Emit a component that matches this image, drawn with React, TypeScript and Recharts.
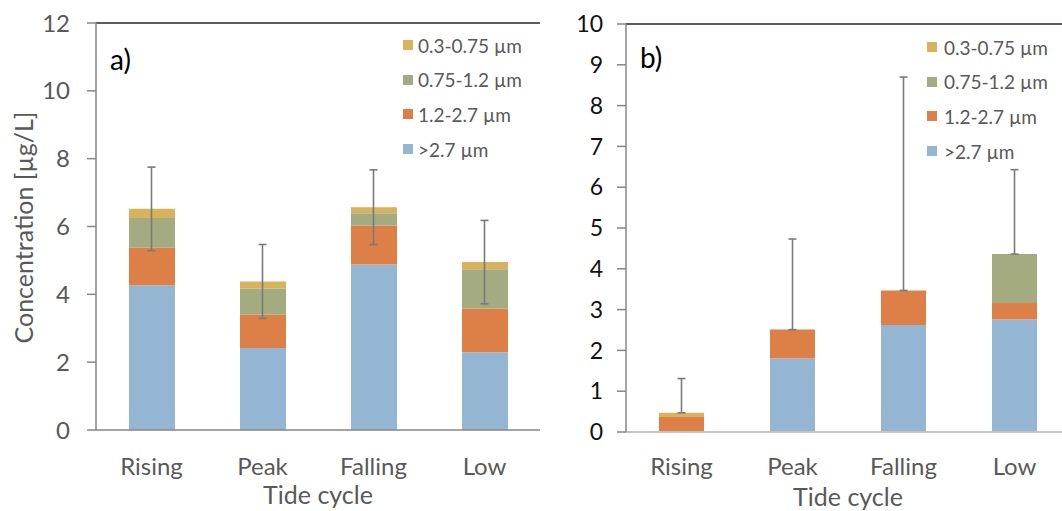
import { ComposedChart, Bar, Scatter, XAxis, YAxis, ErrorBar, ReferenceLine, Legend } from "recharts";

const categories = ["Rising", "Peak", "Falling", "Low"];

// a) size fractions, µg/L
const aGt27    = [4.27, 2.42, 4.88, 2.29];
const a12to27  = [1.1, 0.98, 1.15, 1.29];
const a075to12 = [0.88, 0.77, 0.36, 1.16];
const a03to075 = [0.27, 0.21, 0.18, 0.21];
const aErr     = [1.23, 1.09, 1.1, 1.23];

// b) size fractions, µg/L (upper error only)
const bGt27    = [0, 1.8, 2.62, 2.76];
const b12to27  = [0.37, 0.71, 0.85, 0.4];
const b075to12 = [0, 0, 0, 1.2];
const b03to075 = [0.1, 0, 0, 0];
const bErr     = [0.84, 2.22, 5.23, 2.07];

const aTicks = [0, 2, 4, 6, 8, 10, 12];
const bTicks = [0, 1, 2, 3, 4, 5, 6, 7, 8, 9, 10];

const SERIES = [
  { key: "gt27", label: ">2.7 µm",     color: "#94B6D2" },
  { key: "s12",  label: "1.2-2.7 µm",  color: "#DD8047" },
  { key: "s075", label: "0.75-1.2 µm", color: "#A5AB81" },
  { key: "s03",  label: "0.3-0.75 µm", color: "#D8B25C" },
];

const FONT = "Lato, 'Open Sans', sans-serif";
const GREY = "#595959";

const dataA = categories.map((name, i) => ({
  name, gt27: aGt27[i], s12: a12to27[i], s075: a075to12[i], s03: a03to075[i],
  total: aGt27[i] + a12to27[i] + a075to12[i] + a03to075[i],
  err: aErr[i],
}));
const dataB = categories.map((name, i) => ({
  name, gt27: bGt27[i], s12: b12to27[i], s075: b075to12[i], s03: b03to075[i],
  total: bGt27[i] + b12to27[i] + b075to12[i] + b03to075[i],
  err: [0, bErr[i]],
}));

function LegendBox({ gap }: { gap: number }) {
  return (
    <div style={{ fontFamily: FONT, fontSize: 19, color: GREY }}>
      {[...SERIES].reverse().map((s) => (
        <div key={s.key} style={{ display: "flex", alignItems: "center", height: 34.6 }}>
          <span style={{ width: 10, height: 10, background: s.color, marginRight: gap, display: "inline-block" }} />
          <span style={{ whiteSpace: "nowrap" }}>{s.label}</span>
        </div>
      ))}
    </div>
  );
}

function TideLabel(props: any) {
  const { viewBox } = props;
  return (
    <text x={viewBox.x + viewBox.width / 2} y={viewBox.y + 74} textAnchor="middle"
      fontSize={25} fill={GREY} fontFamily={FONT}>Tide cycle</text>
  );
}

function ConcLabel(props: any) {
  const { viewBox } = props;
  const cx = viewBox.x + 33;
  const cy = viewBox.y + viewBox.height / 2 + 1;
  return (
    <text x={cx} y={cy} transform={`rotate(-90, ${cx}, ${cy})`} textAnchor="middle"
      fontSize={25} fill={GREY} fontFamily={FONT}>Concentration [µg/L]</text>
  );
}

const noDot = () => <g />;

function PanelA() {
  return (
    <div style={{ position: "absolute", left: 0, top: 0 }}>
      <ComposedChart width={546} height={511} data={dataA} margin={{ top: 23, right: 6, bottom: 0, left: 0 }}>
        <XAxis dataKey="name" height={81} tickLine={false} tickSize={0} tickMargin={28}
          axisLine={{ stroke: "#868686", strokeWidth: 1.5 }}
          tick={{ fill: GREY, fontSize: 24, fontFamily: FONT }} label={<TideLabel />} />
        <YAxis yAxisId="l" width={96} domain={[0, 12]} ticks={aTicks} interval={0}
          tickSize={9} tickMargin={17}
          axisLine={{ stroke: "#868686", strokeWidth: 1.5 }} tickLine={{ stroke: "#868686", strokeWidth: 1.5 }}
          tick={{ fill: GREY, fontSize: 24, fontFamily: FONT }} label={<ConcLabel />} />
        <YAxis yAxisId="r" orientation="right" width={0} domain={[0, 12]} tick={false} tickLine={false}
          axisLine={{ stroke: "#262626", strokeWidth: 1.5 }} />
        <ReferenceLine yAxisId="l" y={12} stroke="#262626" strokeWidth={1.5} />
        {SERIES.map((s) => (
          <Bar key={s.key} yAxisId="l" dataKey={s.key} stackId="a" fill={s.color} barSize={46}
            isAnimationActive={false} />
        ))}
        <Scatter yAxisId="l" dataKey="total" shape={noDot} isAnimationActive={false} legendType="none">
          <ErrorBar dataKey="err" direction="y" width={4} stroke="#7a7a7a" strokeWidth={1.6} />
        </Scatter>
        <Legend layout="vertical" align="center" verticalAlign="middle"
          wrapperStyle={{ left: 403, top: 28, width: 140 }} content={() => <LegendBox gap={5} />} />
      </ComposedChart>
      <div style={{ position: "absolute", left: 110, top: 45, fontSize: 28, lineHeight: "28px", fontFamily: FONT, color: "#000" }}>a)</div>
    </div>
  );
}

function PanelB() {
  return (
    <div style={{ position: "absolute", left: 560, top: 0 }}>
      <ComposedChart width={515} height={511} data={dataB} margin={{ top: 24, right: 5, bottom: 0, left: 0 }}>
        <XAxis dataKey="name" height={79} tickLine={false} tickSize={0} tickMargin={26}
          axisLine={{ stroke: "#c4c4c4", strokeWidth: 2 }}
          tick={{ fill: GREY, fontSize: 24, fontFamily: FONT }} label={<TideLabel />} />
        <YAxis width={66} domain={[0, 10]} ticks={bTicks} interval={0}
          tickSize={9} tickMargin={14}
          axisLine={{ stroke: "#868686", strokeWidth: 1.5 }} tickLine={{ stroke: "#868686", strokeWidth: 1.5 }}
          tick={{ fill: "#111", fontSize: 23, fontFamily: FONT }} />
        <ReferenceLine y={10} stroke="#262626" strokeWidth={1.5} />
        {SERIES.map((s) => (
          <Bar key={s.key} dataKey={s.key} stackId="b" fill={s.color} barSize={45}
            isAnimationActive={false} />
        ))}
        <Scatter dataKey="total" shape={noDot} isAnimationActive={false} legendType="none">
          <ErrorBar dataKey="err" direction="y" width={4} stroke="#7a7a7a" strokeWidth={1.6} />
        </Scatter>
        <Legend layout="vertical" align="center" verticalAlign="middle"
          wrapperStyle={{ left: 367, top: 30, width: 140 }} content={() => <LegendBox gap={7} />} />
      </ComposedChart>
      <div style={{ position: "absolute", left: 80, top: 43, fontSize: 28, lineHeight: "28px", fontFamily: FONT, color: "#000" }}>b)</div>
    </div>
  );
}

export default function App() {
  return (
    <div style={{
      position: "absolute", left: 0, top: 0, width: 1062, height: 511,
      overflow: "hidden", background: "#fff",
    }}>
      <PanelA />
      <PanelB />
    </div>
  );
}
